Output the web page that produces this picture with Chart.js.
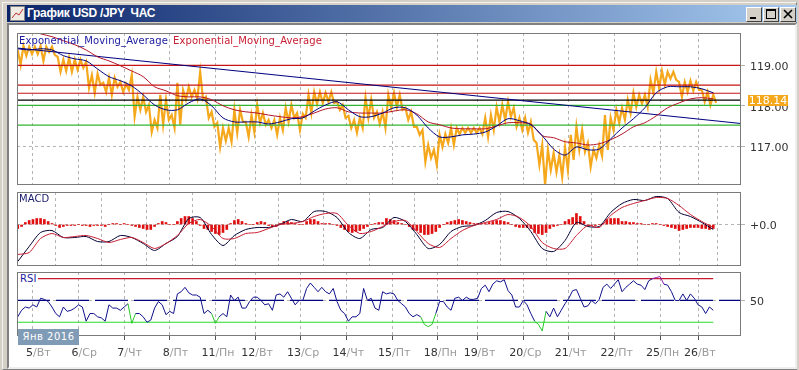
<!DOCTYPE html>
<html>
<head>
<meta charset="utf-8">
<script src="https://cdn.jsdelivr.net/npm/chart.js@4"></script>
<style>
    html, body { margin: 0; padding: 0; width: 799px; height: 370px; overflow: hidden; background: #d4d0c8; font-family: "DejaVu Sans", sans-serif; }
    #outerLeft { position: absolute; left: 2px; top: 2px; width: 793px; height: 366px; border: 1px solid #f4f3ee; border-right-color: #808080; border-bottom-color: #808080; }
    #titleBar { position: absolute; left: 7px; top: 5px; width: 790px; height: 17px; background: linear-gradient(to right, #0a246a, #a6caf0); }
    #titleText { position: absolute; left: 27px; top: 5px; height: 17px; color: #fff; font: bold 12px "Liberation Sans", sans-serif; line-height: 17px; letter-spacing: -0.3px; white-space: pre; }
    #titleIcon { position: absolute; left: 10px; top: 6px; }
    .winBtn { position: absolute; top: 7px; width: 14px; height: 13px; background: #d4d0c8; border: 1px solid; border-color: #fff #404040 #404040 #fff; }
    #client { position: absolute; left: 7px; top: 23px; width: 786px; height: 342px; background: #fff; border: 2px solid; border-color: #808080 #eeeeee #eeeeee #808080; }
    canvas { position: absolute; }
    .panelLabel { position: absolute; font-size: 10px; line-height: 12px; white-space: pre; letter-spacing: 0.1px; }
    #lastPrice { position: absolute; left: 748px; top: 95px; width: 40px; height: 11px; line-height: 11px; background: #f5a81c; color: #fff; font-size: 11px; text-align: center; }
    #monthBox { position: absolute; left: 18px; top: 329px; width: 61px; height: 16px; line-height: 16px; background: #7f9bb5; color: #fff; font-size: 10px; text-align: center; letter-spacing: 0.5px; }
</style>
</head>
<body>
<div id="outerLeft"></div>
<div id="titleBar"></div>
<svg id="titleIcon" width="15" height="15"><rect x="0.5" y="0.5" width="14" height="14" fill="#f0ece4" stroke="#888"/><polyline points="2,12 6,7 9,9 13,3" fill="none" stroke="#c03030"/></svg>
<div id="titleText">График USD /JPY  ЧАС</div>
<div class="winBtn" style="left:746px"><div style="position:absolute;left:3px;top:9px;width:6px;height:2px;background:#000"></div></div>
<div class="winBtn" style="left:763px"><div style="position:absolute;left:2px;top:1px;width:8px;height:7px;border:1px solid #000;border-top-width:2px"></div></div>
<div class="winBtn" style="left:780px"><svg width="14" height="13" style="position:absolute;left:0;top:0"><path d="M3 2 L11 10 M11 2 L3 10" stroke="#000" stroke-width="1.6"/></svg></div>
<div id="client"></div>

<canvas id="priceChart" width="784" height="156" style="left:15px;top:31px"></canvas>
<canvas id="macdChart" width="784" height="78" style="left:15px;top:190px"></canvas>
<canvas id="rsiChart" width="784" height="100" style="left:15px;top:270px"></canvas>

<div class="panelLabel" style="left:19px;top:35px;color:#1a1aa0">Exponential_Moving_Average</div>
<div class="panelLabel" style="left:173px;top:35px;color:#c81e32">Exponential_Moving_Average</div>
<div class="panelLabel" style="left:19px;top:193px;color:#1a1a6e">MACD</div>
<div class="panelLabel" style="left:18px;top:273px;padding:0 1px 0 2px;background:#fff;color:#1a1aa0">RSI</div>
<div id="lastPrice">118.14</div>
<div id="monthBox">Янв 2016</div>

<script>
// день / час на шкале времени
const dayHours = [8, 32, 56, 80, 104, 125, 149, 173, 197, 221, 242, 266, 290, 314, 338, 358];
const dayNumbers = ['5', '6', '7', '8', '11', '12', '13', '14', '15', '18', '19', '20', '21', '22', '25', '26'];
const dayNames = ['Вт', 'Ср', 'Чт', 'Пт', 'Пн', 'Вт', 'Ср', 'Чт', 'Пт', 'Пн', 'Вт', 'Ср', 'Чт', 'Пт', 'Пн', 'Вт'];

// цена, максимум и минимум на каждые 3 часа
const priceHigh = [
    119.38,119.48,119.46,119.46,119.48,119.46,119.46,119.21,119.14,119.19,
    119.14,119.14,119.09,118.76,118.79,118.57,118.69,118.69,118.59,118.54,
    118.76,118.22,118.22,118.02,117.65,118.27,118.15,117.77,118.57,118.39,
    118.47,118.39,118.84,118.22,117.85,117.58,117.45,117.45,117.90,117.90,
    117.60,117.77,118.02,117.82,117.65,117.65,117.70,117.95,118.02,117.82,
    117.80,118.27,118.34,118.34,118.32,118.34,118.10,118.02,117.75,117.65,
    117.70,118.20,118.15,117.85,117.85,118.27,118.32,118.27,117.95,117.85,
    117.48,117.40,117.03,116.91,117.28,117.30,117.45,117.45,117.45,117.45,
    117.45,117.45,117.70,117.77,117.97,118.02,118.10,117.95,117.70,117.70,
    117.60,117.08,117.03,116.91,116.83,116.78,116.98,117.28,117.48,117.40,
    117.08,116.91,117.03,117.77,117.70,117.90,117.95,118.15,118.32,118.27,
    118.27,118.64,118.84,118.86,118.84,118.84,118.59,118.59,118.62,118.59,
    118.39,118.34,118.27
];
const priceLow = [
    119.01,119.24,119.28,119.28,119.11,119.33,119.26,118.84,118.86,118.84,
    118.89,118.94,118.44,118.32,118.52,118.34,118.27,118.47,118.34,118.39,
    117.73,117.90,117.85,117.35,117.45,117.53,117.65,117.45,117.53,118.15,
    118.22,118.17,118.15,117.70,117.48,116.98,117.13,117.11,117.33,117.60,
    117.23,117.35,117.58,117.53,117.45,117.28,117.40,117.60,117.70,117.40,
    117.70,117.82,118.05,118.07,118.10,118.07,117.90,117.70,117.45,117.33,
    117.45,117.70,117.70,117.55,117.45,117.95,117.97,117.90,117.65,117.48,
    117.28,116.61,116.71,116.54,116.98,117.08,117.03,117.30,117.33,117.33,
    117.33,117.30,117.23,117.40,117.60,117.65,117.73,117.48,117.40,117.33,
    117.16,116.54,116.04,116.41,116.36,116.24,116.41,116.66,116.91,116.86,
    116.49,116.71,116.76,116.91,117.40,117.58,117.65,117.82,117.97,118.05,
    117.97,118.32,118.44,118.52,118.67,118.64,118.22,118.34,118.37,118.39,
    118.10,118.02,118.07
];

// скользящие средние, точка на 6 часов
const emaFast = [
    119.41,119.38,119.41,119.38,119.24,119.16,119.11,118.91,118.72,118.62,
    118.49,118.27,118.02,117.90,117.90,118.07,118.17,118.00,117.70,117.60,
    117.60,117.60,117.55,117.60,117.68,117.70,117.87,118.02,118.10,117.90,
    117.73,117.73,117.82,117.95,117.95,117.77,117.45,117.23,117.23,117.28,
    117.30,117.35,117.50,117.68,117.63,117.53,117.26,116.93,116.78,116.98,
    116.91,116.93,117.18,117.45,117.68,117.95,118.32,118.47,118.47,118.47,
    118.42,118.32
];
const emaSlow = [
    119.93,119.88,119.78,119.71,119.61,119.51,119.38,119.21,119.11,118.99,
    118.86,118.72,118.47,118.37,118.25,118.22,118.22,118.15,118.00,117.90,
    117.85,117.82,117.77,117.73,117.70,117.73,117.82,117.92,117.95,117.85,
    117.82,117.82,117.82,117.87,117.90,117.80,117.60,117.53,117.45,117.43,
    117.43,117.43,117.50,117.58,117.58,117.55,117.26,117.21,117.11,117.08,
    117.03,117.06,117.16,117.30,117.48,117.58,117.75,117.95,118.07,118.17,
    118.20,118.17
];

const redLevels = [119.00, 118.51, 118.31];
const greenLevels = [118.01, 117.52];
const lastPrice = 118.14;
const trendValues = [119.43, 117.56];

// MACD, линии - точка на 6 часов, гистограмма - на 2 часа
const macdLine = [
    -0.37,-0.22,-0.08,-0.06,-0.13,-0.13,-0.12,-0.17,-0.17,-0.11,
    -0.13,-0.19,-0.26,-0.19,-0.12,0.06,0.07,-0.10,-0.21,-0.11,
    -0.05,-0.03,-0.03,0,0.05,0.03,0.13,0.13,0.07,-0.08,
    -0.14,-0.05,-0.03,0.07,0.03,-0.10,-0.24,-0.20,-0.07,-0.02,
    -0.01,0.04,0.12,0.13,0.06,-0.07,-0.24,-0.27,-0.16,0.02,
    -0.02,-0.02,0.12,0.21,0.25,0.24,0.28,0.26,0.12,0.08,
    0.02,-0.05
];
const signalLine = [
    -0.30,-0.28,-0.14,-0.09,-0.13,-0.12,-0.11,-0.14,-0.18,-0.15,
    -0.13,-0.18,-0.24,-0.19,-0.11,0.01,0.05,-0.02,-0.14,-0.14,
    -0.09,-0.08,-0.04,0,0.01,0.03,0.08,0.11,0.11,-0.01,
    -0.09,-0.07,-0.02,0.03,0.04,-0.07,-0.19,-0.23,-0.14,-0.06,
    -0.01,0.02,0.05,0.10,0.07,-0.02,-0.18,-0.24,-0.24,-0.11,
    -0.01,-0.03,0.09,0.17,0.21,0.24,0.27,0.26,0.19,0.10,
    0.03,-0.03
];
const macdHist = [
    -.04,-.02,.02,.04,.05,.06,.06,.05,.03,.01,
    -.01,-.03,-.02,-.01,-.01,-.01,0,-.01,-.01,-.02,
    -.01,-.01,-.01,-.02,0,.01,.01,0,.01,0,
    -.01,-.02,-.03,-.04,-.05,-.05,-.02,.01,.03,.02,
    0,0,.03,.06,.08,.08,.06,.03,-.01,-.04,
    -.05,-.07,-.09,-.10,-.08,-.05,.01,.04,.05,.03,
    .01,0,0,.02,.03,.02,-.01,-.02,-.02,.01,
    .03,.03,.02,.01,0,0,.03,.05,.05,.03,
    .01,.01,.01,0,-.01,-.03,-.05,-.07,-.08,-.07,
    -.06,-.04,-.02,0,.01,.02,.02,.06,.05,.04,
    .02,.01,0,-.02,-.05,-.06,-.08,-.10,-.10,-.09,
    -.07,-.03,0,.02,.03,.04,.05,.04,.03,.02,
    .01,.01,.01,.01,.02,.03,.04,.04,.03,.02,
    0,-.02,-.03,-.03,-.03,-.04,-.08,-.09,-.10,-.08,
    -.04,-.02,-.01,0,.03,.05,.07,.11,.08,.03,
    -.01,-.01,-.01,0,.01,.05,.06,.06,.06,.03,
    .03,.02,.02,.01,.01,0,0,.01,.01,0,
    -.01,-.02,-.03,-.04,-.06,-.05,-.04,-.03,-.03,-.03,
    -.04,-.04,-.05,-.04
];

// RSI, точка на 2 часа
const rsiValues = [
    35,41,44,43,46,44,52,51,49,44,
    38,35,44,40,41,43,46,44,31,38,
    38,35,34,31,46,43,43,41,44,47,
    29,38,38,35,30,32,43,49,46,37,
    40,38,56,58,62,57,55,55,53,38,
    41,38,29,35,38,35,55,50,53,43,
    43,49,53,53,50,46,47,41,55,56,
    53,58,52,46,50,50,61,66,62,58,
    62,58,56,61,49,41,38,31,35,35,
    38,61,50,52,43,41,58,56,57,56,
    50,47,44,38,35,37,35,28,26,28,
    38,49,49,44,41,52,53,50,53,51,
    51,52,61,64,58,65,68,67,69,59,
    55,44,44,50,46,38,31,28,22,40,
    35,43,35,41,47,52,59,60,52,44,
    45,50,47,51,62,65,61,65,69,58,
    62,65,68,65,64,60,68,70,71,72,
    65,64,58,50,50,56,50,56,52,46,
    44,38,44,41
];
const rsiLevels = { high: 70, mid: 50, low: 30 };

const xMin = -0.4;
const xMax = 380.6;
const lastHour = 366;

const navy = '#00007f';
const gridGrey = '#b4b4b4';

function toPoints(values, step) {
    return values.map((v, i) => ({ x: i * step, y: v }));
}

function flatLine(y, color, order, from, to) {
    return {
        type: 'line',
        data: [{ x: from === undefined ? xMin : from, y: y }, { x: to === undefined ? xMax : to, y: y }],
        borderColor: color,
        borderWidth: 1.2,
        pointRadius: 0,
        order: order
    };
}

function smoothLine(values, color, order, tension) {
    return {
        type: 'line',
        data: toPoints(values, 6),
        borderColor: color,
        borderWidth: 1,
        pointRadius: 0,
        tension: tension,
        order: order
    };
}

// рамка панели
const framePlugin = {
    id: 'frame',
    afterDraw(chart) {
        const a = chart.chartArea;
        const ctx = chart.ctx;
        ctx.save();
        ctx.strokeStyle = '#7a7a7a';
        ctx.lineWidth = 1;
        ctx.strokeRect(Math.round(a.left) + 0.5, Math.round(a.top) + 0.5, Math.round(a.width) - 1, Math.round(a.height) - 1);
        ctx.restore();
    }
};

// подписи дат: число тёмное, день недели серый
const dayLabelPlugin = {
    id: 'dayLabels',
    afterDraw(chart) {
        const ctx = chart.ctx;
        const sx = chart.scales.x;
        ctx.save();
        ctx.font = '11px "DejaVu Sans"';
        ctx.textBaseline = 'middle';
        dayHours.forEach((h, i) => {
            const px = sx.getPixelForValue(h);
            ctx.textAlign = 'right';
            ctx.fillStyle = '#333333';
            ctx.fillText(dayNumbers[i], px, 83);
            ctx.textAlign = 'left';
            ctx.fillStyle = '#9a9a9a';
            ctx.fillText('/' + dayNames[i], px, 83);
        });
        ctx.restore();
    }
};

function panelOptions(yMin, yMax, yTicks, yLabel, xHeight, padBottom) {
    return {
        responsive: false,
        animation: false,
        events: [],
        layout: { padding: { left: 2, top: 2, bottom: padBottom, right: 0 } },
        plugins: { legend: { display: false }, tooltip: { enabled: false } },
        scales: {
            x: {
                type: 'linear',
                offset: false,
                min: xMin,
                max: xMax,
                afterBuildTicks: s => { s.ticks = dayHours.map(h => ({ value: h })); },
                afterFit: s => { s.height = xHeight; },
                ticks: { display: false, autoSkip: false },
                border: { display: false, dash: [3, 3] },
                grid: { color: gridGrey, drawTicks: xHeight > 0, tickLength: 4, tickColor: '#555', tickBorderDash: [] }
            },
            y: {
                position: 'right',
                min: yMin,
                max: yMax,
                afterBuildTicks: s => { s.ticks = yTicks.map(v => ({ value: v })); },
                afterFit: s => { s.width = 58; s.paddingTop = 0; s.paddingBottom = 0; },
                border: { display: false, dash: [3, 3] },
                grid: { color: gridGrey, tickLength: 4 },
                ticks: {
                    autoSkip: false,
                    padding: 5,
                    labelOffset: 2,
                    color: '#333333',
                    font: { family: '"DejaVu Sans"', size: 11 },
                    callback: yLabel
                }
            }
        }
    };
}

// цена рисуется ломаной: максимум, минимум, максимум...
const priceZigzag = [];
priceHigh.forEach((h, i) => {
    priceZigzag.push({ x: i * 3, y: h });
    priceZigzag.push({ x: i * 3 + 1.5, y: priceLow[i] });
});

new Chart(document.getElementById('priceChart'), {
    type: 'line',
    data: {
        datasets: [
            {
                data: priceZigzag,
                borderColor: '#f5a81c',
                borderWidth: 2.2,
                pointRadius: 0,
                order: 9
            },
            flatLine(redLevels[0], '#c81414', 8),
            flatLine(redLevels[1], '#c81414', 8),
            flatLine(redLevels[2], '#c81414', 8),
            flatLine(lastPrice, '#000000', 7),
            flatLine(greenLevels[0], '#32b432', 8),
            flatLine(greenLevels[1], '#32b432', 8),
            {
                data: [{ x: xMin, y: trendValues[0] }, { x: xMax, y: trendValues[1] }],
                borderColor: navy,
                borderWidth: 1.1,
                pointRadius: 0,
                order: 6
            },
            smoothLine(emaSlow, '#b41428', 5, 0.3),
            smoothLine(emaFast, navy, 4, 0.3)
        ]
    },
    options: panelOptions(116.04, 119.80, [117, 118, 119], v => v.toFixed(2), 0, 2),
    plugins: [framePlugin]
});

new Chart(document.getElementById('macdChart'), {
    type: 'bar',
    data: {
        datasets: [
            {
                type: 'bar',
                data: toPoints(macdHist, 2),
                backgroundColor: '#e01010',
                barThickness: 2,
                order: 5
            },
            smoothLine(macdLine, '#000033', 3, 0.25),
            smoothLine(signalLine, '#c81e32', 2, 0.25)
        ]
    },
    options: panelOptions(-0.415, 0.325, [0], () => '+0.0', 0, 2),
    plugins: [framePlugin]
});

new Chart(document.getElementById('rsiChart'), {
    type: 'line',
    data: {
        datasets: [
            flatLine(rsiLevels.high, '#c81e32', 5, xMin, lastHour),
            flatLine(rsiLevels.low, '#28dc28', 5, xMin, lastHour),
            Object.assign(flatLine(rsiLevels.mid, navy, 4), { borderDash: [33, 6] }),
            {
                data: toPoints(rsiValues, 2),
                borderColor: '#10108c',
                borderWidth: 1,
                pointRadius: 0,
                order: 1,
                segment: {
                    borderColor: c => {
                        const a = c.p0.parsed.y, b = c.p1.parsed.y;
                        if (a < rsiLevels.low || b < rsiLevels.low) return '#28c828';
                        if (a > rsiLevels.high || b > rsiLevels.high) return '#9a18b4';
                        return undefined;
                    }
                }
            }
        ]
    },
    options: panelOptions(17.4, 76.1, [rsiLevels.mid], v => String(v), 34, 0),
    plugins: [framePlugin, dayLabelPlugin]
});
</script>
</body>
</html>
